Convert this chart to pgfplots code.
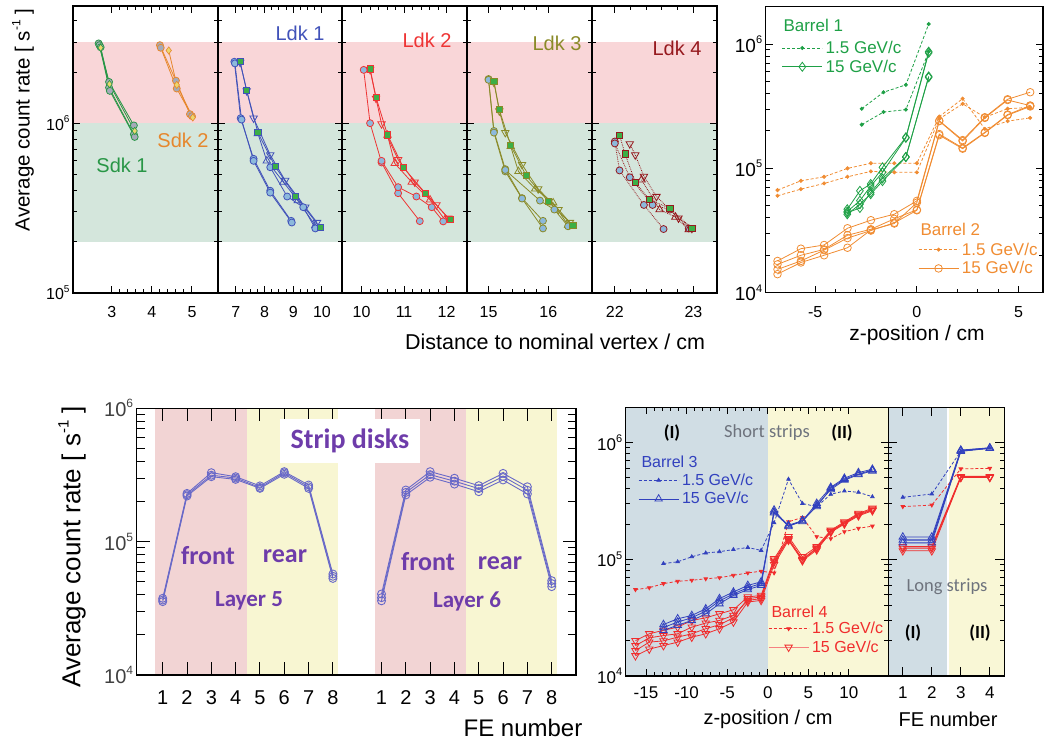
\documentclass[border=0pt]{standalone}
\usepackage{pgfplots}
\pgfplotsset{compat=1.18}
\usepackage{fontspec}
\setmainfont{Liberation Sans}
\newfontfamily\calib{Carlito}

\definecolor{bpink}{RGB}{249,214,216}
\definecolor{bgreen}{RGB}{212,230,220}
\definecolor{sdkgreen}{RGB}{40,150,70}
\definecolor{sdkorange}{RGB}{230,135,45}
\definecolor{ldkblue}{RGB}{65,82,185}
\definecolor{ldkred}{RGB}{238,52,52}
\definecolor{ldkolive}{RGB}{138,138,40}
\definecolor{ldkdark}{RGB}{150,25,30}
\definecolor{mkblue}{RGB}{140,185,220}
\definecolor{mkgreen}{RGB}{60,175,70}
\definecolor{mkgray}{RGB}{165,170,185}
\definecolor{mkyellow}{RGB}{235,215,110}
\definecolor{bgreen2}{RGB}{30,160,70}
\definecolor{borange}{RGB}{240,140,50}
\definecolor{lpink}{RGB}{242,212,212}
\definecolor{lyellow}{RGB}{248,246,210}
\definecolor{lline}{RGB}{105,105,200}
\definecolor{lpurple}{RGB}{110,60,170}
\definecolor{bgblue}{RGB}{208,221,228}
\definecolor{byellow}{RGB}{249,247,214}
\definecolor{bblue}{RGB}{50,65,190}
\definecolor{bred}{RGB}{240,45,45}
\definecolor{sgray}{RGB}{110,115,125}

\newcommand\fs[1]{\fontsize{#1}{#1}\selectfont}
\newcommand\tenp[2]{10\raisebox{0.45em}{\fs{#2}#1}}

\pgfplotsset{
  every axis/.append style={scale only axis, anchor=south west, axis on top,
    axis line style={line width=1.2pt},
    tick style={black, line width=1pt},
    major tick length=7pt, minor tick length=4pt,
    tick label style={font=\fs{16}}},
  mkc/.style={color=#1, line width=0.8pt, mark=*, mark size=3.5pt,
    mark options={solid, fill=mkblue, draw=#1, line width=0.8pt}},
  mkg/.style={color=#1, line width=0.8pt, mark=*, mark size=3.5pt,
    mark options={solid, fill=mkgray, draw=#1, line width=0.8pt}},
  mky/.style={color=#1, line width=0.8pt, mark=diamond*, mark size=3.6pt,
    mark options={solid, fill=mkyellow, draw=#1, line width=0.6pt}},
  mks/.style={color=#1, line width=0.8pt, mark=square*, mark size=3.1pt,
    mark options={solid, fill=mkgreen, draw=#1, line width=0.8pt}},
  mkd/.style={color=#1, line width=0.8pt, mark=triangle, mark size=4.3pt,
    mark options={solid, rotate=180, draw=#1, line width=0.8pt}},
  mku/.style={color=#1, line width=0.8pt, mark=triangle, mark size=4.3pt,
    mark options={solid, draw=#1, line width=0.8pt}},
}
\newcommand\legcode{\pgfplotsset{legend image code/.code={\draw[mark repeat=2, mark phase=2, ##1]
      plot coordinates {(0pt,0pt) (20pt,0pt) (40pt,0pt)};}}}

\newcommand\topbands{%
  \addplot[fill=bgreen, draw=none, forget plot] coordinates {(0,2e5) (100,2e5) (100,1e6) (0,1e6)} -- cycle;
  \addplot[fill=bpink, draw=none, forget plot] coordinates {(0,1e6) (100,1e6) (100,3e6) (0,3e6)} -- cycle;}

\begin{document}
\begin{tikzpicture}[x=1pt,y=1pt]
\path[use as bounding box] (0,0) rectangle (1044,-746);

% ---------- top left: disks ----------
\begin{axis}[ymode=log, ymin=1e5, ymax=4.9e6, height=287pt, ytick={1e5,1e6},
  minor ytick={2e5,3e5,4e5,5e5,6e5,7e5,8e5,9e5,2e6,3e6,4e6},
  at={(73pt,-293pt)}, width=145pt, xmin=2.03, xmax=5.65,
  xtick={3,4,5}, xticklabels={3,4,5}, minor x tick num=4,
  xticklabel style={yshift=-10pt},
  yticklabels={\tenp{5}{10},\tenp{6}{10}}]
\topbands
\addplot[mkg=sdkgreen] coordinates {(2.67,2.95e6) (2.93,1.75e6) (3.55,0.97e6)};
\addplot[mkg=sdkgreen] coordinates {(2.69,2.88e6) (2.93,1.62e6) (3.55,0.86e6)};
\addplot[mkg=sdkgreen] coordinates {(2.72,2.80e6) (2.95,1.55e6) (3.57,0.83e6)};
\addplot[mky=sdkgreen] coordinates {(2.72,2.78e6) (2.94,1.70e6) (3.57,0.90e6)};
\addplot[mkg=sdkorange] coordinates {(4.20,2.88e6) (4.60,1.78e6) (4.95,1.13e6)};
\addplot[mkg=sdkorange] coordinates {(4.22,2.78e6) (4.62,1.60e6) (5.00,1.10e6)};
\addplot[mky=sdkorange] coordinates {(4.42,2.68e6) (4.62,1.68e6) (5.02,1.08e6)};
\end{axis}

\begin{axis}[ymode=log, ymin=1e5, ymax=4.9e6, height=287pt, ytick={1e5,1e6}, yticklabels={},
  minor ytick={2e5,3e5,4e5,5e5,6e5,7e5,8e5,9e5,2e6,3e6,4e6},
  at={(218pt,-293pt)}, width=124pt, xmin=6.38, xmax=10.7,
  xtick={7,8,9,10}, xticklabels={7,8,9,10}, minor x tick num=3,
  xticklabel style={yshift=-10pt}]
\topbands
\addplot[mkc=ldkblue] coordinates {(6.95,2.3e6) (7.17,1.07e6) (7.62,0.617e6) (8.2,0.40e6) (8.93,0.266e6)};
\addplot[mkc=ldkblue] coordinates {(6.97,2.25e6) (7.2,1.05e6) (7.62,0.60e6) (8.2,0.39e6) (8.95,0.26e6)};
\addplot[mkd=ldkblue] coordinates {(7.15,2.28e6) (7.38,1.55e6) (7.62,1.07e6) (8.2,0.65e6) (8.72,0.46e6) (9.42,0.32e6) (9.83,0.26e6)};
\addplot[mku=ldkblue] coordinates {(7.77,0.87e6) (8.08,0.60e6) (8.66,0.45e6) (9.16,0.35e6) (9.77,0.25e6)};
\addplot[mkc=ldkblue] coordinates {(8.2,0.55e6) (8.79,0.37e6) (9.35,0.32e6) (9.77,0.24e6)};
\addplot[mks=ldkblue] coordinates {(7.15,2.3e6) (7.38,1.56e6) (7.77,0.88e6) (8.37,0.556e6) (9.09,0.37e6) (9.94,0.243e6)};
\end{axis}

\begin{axis}[ymode=log, ymin=1e5, ymax=4.9e6, height=287pt, ytick={1e5,1e6}, yticklabels={},
  minor ytick={2e5,3e5,4e5,5e5,6e5,7e5,8e5,9e5,2e6,3e6,4e6},
  at={(342pt,-293pt)}, width=125pt, xmin=9.54, xmax=12.48,
  xtick={10,11,12}, xticklabels={10,11,12}, minor x tick num=4,
  xticklabel style={yshift=-10pt}]
\topbands
\addplot[mkc=ldkred] coordinates {(10.05,2.06e6) (10.2,1.0e6) (10.47,0.587e6) (10.86,0.387e6) (11.37,0.265e6)};
\addplot[mkd=ldkred] coordinates {(10.2,2.07e6) (10.34,1.40e6) (10.47,0.99e6) (10.86,0.61e6) (11.25,0.45e6) (11.76,0.33e6) (12.04,0.276e6)};
\addplot[mku=ldkred] coordinates {(10.61,0.85e6) (10.78,0.58e6) (11.18,0.45e6) (11.61,0.354e6) (11.96,0.27e6)};
\addplot[mkc=ldkred] coordinates {(10.47,0.60e6) (10.86,0.42e6) (11.29,0.37e6) (11.65,0.32e6) (11.92,0.264e6)};
\addplot[mks=ldkred] coordinates {(10.2,2.09e6) (10.34,1.42e6) (10.61,0.854e6) (10.98,0.55e6) (11.5,0.387e6) (12.08,0.27e6)};
\end{axis}

\begin{axis}[ymode=log, ymin=1e5, ymax=4.9e6, height=287pt, ytick={1e5,1e6}, yticklabels={},
  minor ytick={2e5,3e5,4e5,5e5,6e5,7e5,8e5,9e5,2e6,3e6,4e6},
  at={(467pt,-293pt)}, width=125pt, xmin=14.64, xmax=16.73,
  xtick={15,16}, xticklabels={15,16}, minor x tick num=4,
  xticklabel style={yshift=-10pt}]
\topbands
\addplot[mkc=ldkolive] coordinates {(15.0,1.82e6) (15.09,0.90e6) (15.28,0.536e6) (15.56,0.362e6) (15.91,0.266e6)};
\addplot[mkc=ldkolive] coordinates {(15.0,1.80e6) (15.09,0.88e6) (15.28,0.52e6) (15.56,0.36e6) (15.91,0.24e6)};
\addplot[mkd=ldkolive] coordinates {(15.09,1.74e6) (15.18,1.18e6) (15.28,0.88e6) (15.56,0.57e6) (15.83,0.41e6) (16.17,0.31e6) (16.36,0.26e6)};
\addplot[mku=ldkolive] coordinates {(15.37,0.73e6) (15.5,0.52e6) (15.78,0.41e6) (16.08,0.34e6) (16.33,0.25e6)};
\addplot[mkc=ldkolive] coordinates {(15.28,0.53e6) (15.86,0.35e6) (16.1,0.31e6) (16.33,0.247e6)};
\addplot[mks=ldkolive] coordinates {(15.09,1.76e6) (15.18,1.2e6) (15.37,0.74e6) (15.63,0.49e6) (16.0,0.346e6) (16.41,0.25e6)};
\end{axis}

\begin{axis}[ymode=log, ymin=1e5, ymax=4.9e6, height=287pt, ytick={1e5,1e6}, yticklabels={},
  minor ytick={2e5,3e5,4e5,5e5,6e5,7e5,8e5,9e5,2e6,3e6,4e6},
  at={(592pt,-293pt)}, width=125pt, xmin=21.71, xmax=23.3,
  xtick={22,23}, xticklabels={22,23}, minor x tick num=4,
  xticklabel style={yshift=-10pt}]
\topbands
\addplot[mkc=ldkdark, densely dotted] coordinates {(22.0,0.78e6) (22.06,0.527e6) (22.37,0.33e6) (22.62,0.238e6)};
\addplot[mkc=ldkdark, densely dotted] coordinates {(22.0,0.76e6) (22.19,0.48e6) (22.48,0.33e6) (22.7,0.31e6) (22.94,0.24e6)};
\addplot[mkd=ldkdark, densely dotted] coordinates {(22.19,0.756e6) (22.26,0.65e6) (22.37,0.486e6) (22.53,0.37e6) (22.81,0.276e6) (22.98,0.24e6)};
\addplot[mku=ldkdark, densely dotted] coordinates {(22.34,0.464e6) (22.57,0.31e6) (22.77,0.28e6) (22.94,0.236e6)};
\addplot[mks=ldkdark, densely dotted] coordinates {(22.06,0.85e6) (22.13,0.66e6) (22.26,0.45e6) (22.44,0.354e6) (22.7,0.316e6) (22.98,0.24e6)};
\end{axis}

\node[sdkgreen, font=\fs{20}] at (122,-165) {Sdk 1};
\node[sdkorange, font=\fs{20}] at (183,-140) {Sdk 2};
\node[ldkblue, font=\fs{20}] at (300,-33) {Ldk 1};
\node[ldkred, font=\fs{20}] at (427,-40) {Ldk 2};
\node[ldkolive, font=\fs{20}] at (557,-43) {Ldk 3};
\node[ldkdark, font=\fs{20}] at (677,-48) {Ldk 4};
\node[rotate=90, font=\fs{20.5}] at (23,-120) {Average count rate [ s\raisebox{0.45em}{\fs{12}-1} ]};
\node[font=\fs{21.5}] at (555,-342) {Distance to nominal vertex / cm};

% ---------- top right: barrels 1, 2 ----------
\begin{axis}[ymode=log, at={(765.7pt,-292.7pt)}, width=277.3pt, height=286pt,
  xmin=-7.43, xmax=6.2, ymin=1e4, ymax=2e6,
  xtick={-5,0,5}, xticklabels={-5,0,5}, minor x tick num=4, xtick pos=left,
  xticklabel style={yshift=-10pt},
  ytick={1e4,1e5,1e6}, yticklabels={\tenp{4}{11},\tenp{5}{11},\tenp{6}{11}},
  yticklabel style={font=\fs{19}},
  minor ytick={2e4,3e4,4e4,5e4,6e4,7e4,8e4,9e4,2e5,3e5,4e5,5e5,6e5,7e5,8e5,9e5,2e6}]
\addplot[borange, densely dashed, line width=0.8pt, mark=*, mark size=1.6pt, mark options={solid}] coordinates {(-6.85,6.69e4) (-5.7,7.95e4) (-4.56,8.56e4) (-3.41,1.0e5) (-2.26,1.1e5) (-1.11,1.1e5) (0,1.1e5) (1.1,2.61e5) (2.25,3.64e5) (3.34,2.08e5) (4.46,2.4e5) (5.57,2.55e5)};
\addplot[borange, densely dashed, line width=0.8pt, mark=*, mark size=1.6pt, mark options={solid}] coordinates {(-6.85,6.02e4) (-5.7,6.81e4) (-4.56,7.57e4) (-3.41,8.56e4) (-2.26,9.46e4) (-1.11,9.3e4) (0,9.3e4) (1.1,2.5e5) (2.25,3.31e5) (3.34,2.58e5) (4.46,3.02e5) (5.57,3.1e5)};
\addplot[borange, line width=0.8pt, mark=o, mark size=3.8pt, mark options={solid, fill=white}] coordinates {(-6.85,1.8e4) (-5.7,2.26e4) (-4.56,2.42e4) (-3.41,3.3e4) (-2.26,3.83e4) (-1.11,4.28e4) (0,5.48e4) (1.1,2.42e5) (2.25,1.69e5) (3.34,2.58e5) (4.46,3.6e5) (5.57,4.1e5)};
\addplot[borange, line width=0.8pt, mark=o, mark size=3.8pt, mark options={solid, fill=white}] coordinates {(-6.85,1.69e4) (-5.7,2.0e4) (-4.56,2.23e4) (-3.41,2.9e4) (-2.26,3.24e4) (-1.11,3.93e4) (0,4.65e4) (1.1,1.89e5) (2.25,1.46e5) (3.34,1.95e5) (4.46,2.71e5) (5.57,3.2e5)};
\addplot[borange, line width=0.8pt, mark=o, mark size=3.8pt, mark options={solid, fill=white}] coordinates {(-6.85,1.54e4) (-5.7,1.8e4) (-4.56,2.2e4) (-3.41,2.75e4) (-2.26,3.16e4) (-1.11,3.65e4) (0,4.6e4) (1.1,1.85e5) (2.25,1.44e5) (3.34,1.93e5) (4.46,2.68e5) (5.57,3.15e5)};
\addplot[borange, line width=0.8pt, mark=o, mark size=3.8pt, mark options={solid, fill=white}] coordinates {(-6.85,1.41e4) (-5.7,1.75e4) (-4.56,2.0e4) (-3.41,2.3e4) (-2.26,3.2e4) (-1.11,3.6e4) (0,5.3e4) (1.1,2.4e5) (2.25,1.66e5) (3.34,2.55e5) (4.46,3.55e5) (5.57,3.2e5)};
\addplot[bgreen2, densely dashed, line width=0.8pt, mark=*, mark size=1.6pt, mark options={solid}] coordinates {(-2.71,3.02e5) (-1.64,4.1e5) (-0.54,4.7e5) (0.58,1.45e6)};
\addplot[bgreen2, densely dashed, line width=0.8pt, mark=*, mark size=1.6pt, mark options={solid}] coordinates {(-2.71,2.25e5) (-1.64,2.84e5) (-0.54,2.97e5) (0.58,8.7e5)};
\addplot[bgreen2, line width=0.8pt, mark=diamond, mark size=4.5pt, mark options={solid, fill=white}] coordinates {(-3.42,4.69e4) (-2.8,6.6e4) (-2.27,7.5e4) (-1.69,1.02e5) (-0.54,1.78e5) (0.58,8.7e5)};
\addplot[bgreen2, line width=0.8pt, mark=diamond, mark size=4.5pt, mark options={solid, fill=white}] coordinates {(-3.42,4.5e4) (-2.8,5.5e4) (-2.27,7.2e4) (-1.69,9.3e4) (-0.54,1.76e5) (0.58,8.5e5)};
\addplot[bgreen2, line width=0.8pt, mark=diamond, mark size=4.5pt, mark options={solid, fill=white}] coordinates {(-3.42,4.27e4) (-2.8,5.15e4) (-2.27,6.2e4) (-1.69,7.9e4) (-0.54,1.23e5) (0.58,5.5e5)};
\addplot[bgreen2, line width=0.8pt, mark=diamond, mark size=4.5pt, mark options={solid, fill=white}] coordinates {(-3.42,4.4e4) (-2.8,4.8e4) (-2.27,6.4e4) (-1.69,8.3e4) (-0.54,1.24e5) (0.58,5.4e5)};
\end{axis}

\begin{axis}[hide axis, xmin=0, xmax=1, ymin=0, ymax=1, legend cell align=left,
  at={(765.7pt,-292.7pt)}, width=277.3pt, height=286pt,
  legend style={at={(0.0577,0.884)}, anchor=north west, draw=none, fill=none,
    inner sep=0pt, row sep=3pt, text=bgreen2, font=\fs{17},
    nodes={inner ysep=1pt, inner xsep=3pt}}]
\legcode
\addlegendimage{bgreen2, densely dashed, line width=0.8pt, mark=*, mark size=1.6pt, mark options={solid}}
\addlegendentry{1.5 GeV/c}
\addlegendimage{bgreen2, line width=0.8pt, mark=diamond, mark size=4.5pt, mark options={solid, fill=white}}
\addlegendentry{15 GeV/c}
\end{axis}
\begin{axis}[hide axis, xmin=0, xmax=1, ymin=0, ymax=1, legend cell align=left,
  at={(765.7pt,-292.7pt)}, width=277.3pt, height=286pt,
  legend style={at={(0.549,0.179)}, anchor=north west, draw=none, fill=none,
    inner sep=0pt, row sep=3pt, text=borange, font=\fs{17},
    nodes={inner ysep=1pt, inner xsep=3pt}}]
\legcode
\addlegendimage{borange, densely dashed, line width=0.8pt, mark=*, mark size=1.6pt, mark options={solid}}
\addlegendentry{1.5 GeV/c}
\addlegendimage{borange, line width=0.8pt, mark=o, mark size=3.8pt, mark options={solid, fill=white}}
\addlegendentry{15 GeV/c}
\end{axis}
\node[bgreen2, font=\fs{17}, anchor=west] at (780,-25) {Barrel 1};
\node[borange, font=\fs{17}, anchor=west] at (917,-229) {Barrel 2};
\node[font=\fs{21}] at (917,-335) {z-position / cm};

% ---------- bottom left: strip disks ----------
\begin{axis}[ymode=log, at={(136.7pt,-675pt)}, width=439.3pt, height=266.7pt,
  xmin=-0.07, xmax=18, ymin=1e4, ymax=1e6,
  major tick length=13pt, minor tick length=8pt,
  xtick={1,2,3,4,5,6,7,8,10,11,12,13,14,15,16,17},
  xticklabels={1,2,3,4,5,6,7,8,1,2,3,4,5,6,7,8},
  xticklabel style={font=\fs{20}, yshift=-12pt},
  ytick={1e4,1e5,1e6}, yticklabels={\tenp{4}{12},\tenp{5}{12},\tenp{6}{12}},
  yticklabel style={font=\fs{20}, text=black!75},
  minor ytick={2e4,3e4,4e4,5e4,6e4,7e4,8e4,9e4,2e5,3e5,4e5,5e5,6e5,7e5,8e5,9e5}]
\addplot[fill=lpink, draw=none, forget plot] coordinates {(0.68,1e4) (4.47,1e4) (4.47,1e6) (0.68,1e6)} -- cycle;
\addplot[fill=lyellow, draw=none, forget plot] coordinates {(4.47,1e4) (8.23,1e4) (8.23,1e6) (4.47,1e6)} -- cycle;
\addplot[fill=lpink, draw=none, forget plot] coordinates {(9.73,1e4) (13.47,1e4) (13.47,1e6) (9.73,1e6)} -- cycle;
\addplot[fill=lyellow, draw=none, forget plot] coordinates {(13.47,1e4) (17.2,1e4) (17.2,1e6) (13.47,1e6)} -- cycle;
\addplot[lline, line width=0.9pt, mark=o, mark size=4pt] coordinates {(1,3.76e4) (2,2.3e5) (3,3.29e5) (4,3.07e5) (5,2.62e5) (6,3.35e5) (7,2.66e5) (8,5.72e4)};
\addplot[lline, line width=0.9pt, mark=o, mark size=4pt] coordinates {(1,3.55e4) (2,2.2e5) (3,3.07e5) (4,2.93e5) (5,2.51e5) (6,3.2e5) (7,2.51e5) (8,5.3e4)};
\addplot[lline, line width=0.9pt, mark=o, mark size=4pt] coordinates {(1,3.65e4) (2,2.25e5) (3,3.15e5) (4,3.0e5) (5,2.55e5) (6,3.28e5) (7,2.58e5) (8,5.5e4)};
\addplot[lline, line width=0.9pt, mark=o, mark size=4pt] coordinates {(10,4.05e4) (11,2.44e5) (12,3.35e5) (13,2.99e5) (14,2.63e5) (15,3.25e5) (16,2.58e5) (17,5.1e4)};
\addplot[lline, line width=0.9pt, mark=o, mark size=4pt] coordinates {(10,3.6e4) (11,2.24e5) (12,3.04e5) (13,2.7e5) (14,2.37e5) (15,2.9e5) (16,2.28e5) (17,4.6e4)};
\addplot[lline, line width=0.9pt, mark=o, mark size=4pt] coordinates {(10,3.8e4) (11,2.34e5) (12,3.18e5) (13,2.84e5) (14,2.5e5) (15,3.08e5) (16,2.43e5) (17,4.85e4)};
\end{axis}
\node[fill=white, text=lpurple, font=\calib\bfseries\fs{28}, minimum width=140pt, minimum height=44pt] at (350,-441) {Strip disks};
\node[lpurple, font=\calib\bfseries\fs{26}] at (208,-556) {front};
\node[lpurple, font=\calib\bfseries\fs{26}] at (285,-556) {rear};
\node[lpurple, font=\calib\bfseries\fs{23}] at (249,-601) {Layer 5};
\node[lpurple, font=\calib\bfseries\fs{26}] at (428,-562) {front};
\node[lpurple, font=\calib\bfseries\fs{26}] at (500,-563) {rear};
\node[lpurple, font=\calib\bfseries\fs{23}] at (467,-601) {Layer 6};
\node[rotate=90, font=\fs{26}] at (72,-547) {Average count rate [ s\raisebox{0.45em}{\fs{15}-1} ]};
\node[font=\fs{24}] at (523,-728) {FE number};

% ---------- bottom right: barrels 3, 4 ----------
\begin{axis}[ymode=log, at={(625.7pt,-676pt)}, width=262.6pt, height=268.7pt,
  xmin=-17.5, xmax=14.85, ymin=1e4, ymax=2e6,
  xtick={-15,-10,-5,0,5,10}, xticklabels={-15,-10,-5,0,5,10}, minor x tick num=4,
  xticklabel style={font=\fs{17}, yshift=-7pt},
  ytick={1e4,1e5,1e6}, yticklabels={\tenp{4}{11},\tenp{5}{11},\tenp{6}{11}},
  yticklabel style={font=\fs{17}},
  minor ytick={2e4,3e4,4e4,5e4,6e4,7e4,8e4,9e4,2e5,3e5,4e5,5e5,6e5,7e5,8e5,9e5,2e6}]
\addplot[fill=bgblue, draw=none, forget plot] coordinates {(-20,1e4) (0,1e4) (0,2e6) (-20,2e6)} -- cycle;
\addplot[fill=byellow, draw=none, forget plot] coordinates {(0,1e4) (20,1e4) (20,2e6) (0,2e6)} -- cycle;
\addplot[bblue, densely dashed, line width=0.8pt, mark=triangle*, mark size=2pt, mark options={solid}] coordinates {(-12.85,0.918e5) (-11.1,0.95e5) (-9.36,1.05e5) (-7.64,1.13e5) (-5.95,1.16e5) (-4.23,1.21e5) (-2.46,1.26e5) (-0.82,1.19e5) (0.78,2.05e5) (2.55,4.84e5) (4.27,3.0e5) (6.03,2.82e5) (7.76,3.6e5) (9.44,3.84e5) (11.17,3.74e5) (12.89,3.43e5)};
\addplot[bred, densely dashed, line width=0.8pt, mark=triangle*, mark size=2pt, mark options={solid, rotate=180}] coordinates {(-16.3,0.549e5) (-14.6,0.57e5) (-12.85,0.618e5) (-11.1,0.647e5) (-9.36,0.66e5) (-7.64,0.68e5) (-5.95,0.695e5) (-4.23,0.728e5) (-2.46,0.763e5) (-0.82,0.79e5) (0.78,0.763e5) (2.55,2.09e5) (4.27,2.28e5) (6.03,1.56e5) (7.76,1.5e5) (9.44,1.72e5) (11.17,1.84e5) (12.89,1.92e5)};
\addplot[mkd=bred, mark size=4.3pt] coordinates {(-16.3,2.01e4) (-14.6,2.3e4) (-12.85,2.46e4) (-11.1,2.62e4) (-9.36,2.99e4) (-7.64,3.15e4) (-5.95,3.41e4) (-4.23,3.69e4) (-2.46,4.75e4) (-0.82,4.9e4) (0.78,1.01e5) (2.55,1.56e5) (4.27,1.05e5) (6.03,1.28e5) (7.76,1.77e5) (9.44,2.09e5) (11.17,2.47e5) (12.89,2.73e5)};
\addplot[mkd=bred, mark size=4.3pt] coordinates {(-16.3,1.82e4) (-14.6,2.12e4) (-12.85,2.22e4) (-11.1,2.3e4) (-9.36,2.62e4) (-7.64,2.84e4) (-5.95,2.99e4) (-4.23,3.3e4) (-2.46,4.44e4) (-0.82,4.6e4) (0.78,0.98e5) (2.55,1.5e5) (4.27,0.99e5) (6.03,1.23e5) (7.76,1.72e5) (9.44,2.03e5) (11.17,2.39e5) (12.89,2.64e5)};
\addplot[mkd=bred, mark size=4.3pt] coordinates {(-16.3,1.49e4) (-14.6,1.7e4) (-12.85,1.82e4) (-11.1,1.95e4) (-9.36,2.15e4) (-7.64,2.3e4) (-5.95,2.54e4) (-4.23,2.9e4) (-2.46,4.3e4) (-0.82,4.44e4) (0.78,0.9e5) (2.55,1.45e5) (4.27,0.97e5) (6.03,1.2e5) (7.76,1.7e5) (9.44,2.0e5) (11.17,2.35e5) (12.89,2.6e5)};
\addplot[mkd=bred, mark size=4.3pt] coordinates {(-16.3,1.65e4) (-14.6,1.95e4) (-12.85,2.0e4) (-11.1,2.15e4) (-9.36,2.3e4) (-7.64,2.54e4) (-5.95,2.75e4) (-4.23,3.15e4) (-2.46,4.6e4) (-0.82,4.75e4) (0.78,0.95e5) (2.55,1.48e5) (4.27,1.0e5) (6.03,1.25e5) (7.76,1.74e5) (9.44,2.05e5) (11.17,2.43e5) (12.89,2.68e5)};
\addplot[mku=bblue, mark size=4.3pt] coordinates {(-12.85,2.76e4) (-11.1,3.09e4) (-9.36,3.3e4) (-7.64,3.76e4) (-5.95,4.6e4) (-4.23,5.24e4) (-2.46,5.97e4) (-0.82,6.4e4) (0.78,2.55e5) (2.55,1.96e5) (4.27,2.13e5) (6.03,3.01e5) (7.76,4.13e5) (9.44,4.94e5) (11.17,5.52e5) (12.89,5.9e5)};
\addplot[mku=bblue, mark size=4.3pt] coordinates {(-12.85,2.46e4) (-11.1,2.72e4) (-9.36,2.99e4) (-7.64,3.4e4) (-5.95,4.16e4) (-4.23,4.9e4) (-2.46,5.49e4) (-0.82,5.97e4) (0.78,2.64e5) (2.55,1.9e5) (4.27,2.16e5) (6.03,2.82e5) (7.76,4.05e5) (9.44,4.84e5) (11.17,5.37e5) (12.89,5.8e5)};
\addplot[mku=bblue, mark size=4.3pt] coordinates {(-12.85,2.6e4) (-11.1,2.9e4) (-9.36,3.15e4) (-7.64,3.6e4) (-5.95,4.4e4) (-4.23,5.05e4) (-2.46,5.7e4) (-0.82,6.2e4) (0.78,2.5e5) (2.55,1.93e5) (4.27,2.1e5) (6.03,2.9e5) (7.76,3.95e5) (9.44,4.75e5) (11.17,5.3e5) (12.89,5.7e5)};
\end{axis}

\begin{axis}[ymode=log, at={(888.3pt,-676pt)}, width=116pt, height=268.7pt,
  xmin=0.5, xmax=4.5, ymin=1e4, ymax=2e6,
  major tick length=9pt, xtick={1,2,3,4}, xticklabels={1,2,3,4},
  xticklabel style={font=\fs{17}, yshift=-7pt},
  ytick={1e4,1e5,1e6}, yticklabels={},
  minor ytick={2e4,3e4,4e4,5e4,6e4,7e4,8e4,9e4,2e5,3e5,4e5,5e5,6e5,7e5,8e5,9e5,2e6}]
\addplot[fill=bgblue, draw=none, forget plot] coordinates {(0,1e4) (2.51,1e4) (2.51,2e6) (0,2e6)} -- cycle;
\addplot[fill=byellow, draw=none, forget plot] coordinates {(2.59,1e4) (5,1e4) (5,2e6) (2.59,2e6)} -- cycle;
\addplot[bblue, densely dashed, line width=0.8pt, mark=triangle*, mark size=2pt, mark options={solid}] coordinates {(1,3.39e5) (2,3.62e5) (3,8.4e5) (4,8.95e5)};
\addplot[bred, densely dashed, line width=0.8pt, mark=triangle*, mark size=2pt, mark options={solid, rotate=180}] coordinates {(1,2.82e5) (2,2.91e5) (3,5.94e5) (4,6.0e5)};
\addplot[mkd=bred, mark size=4.3pt, line width=1.2pt] coordinates {(1,1.28e5) (2,1.28e5) (3,5.1e5) (4,5.1e5)};
\addplot[mkd=bred, mark size=4.3pt] coordinates {(1,1.24e5) (2,1.24e5) (3,5.05e5) (4,5.05e5)};
\addplot[mkd=bred, mark size=4.3pt] coordinates {(1,1.18e5) (2,1.18e5) (3,5.0e5) (4,5.0e5)};
\addplot[mku=bblue, mark size=4.3pt, line width=1.2pt] coordinates {(1,1.46e5) (2,1.46e5) (3,8.53e5) (4,8.94e5)};
\addplot[mku=bblue, mark size=4.3pt] coordinates {(1,1.55e5) (2,1.55e5) (3,8.6e5) (4,9.0e5)};
\addplot[mku=bblue, mark size=4.3pt] coordinates {(1,1.38e5) (2,1.38e5) (3,8.4e5) (4,8.9e5)};
\end{axis}

\begin{axis}[hide axis, xmin=0, xmax=1, ymin=0, ymax=1, legend cell align=left,
  at={(625.7pt,-676pt)}, width=262.6pt, height=268.7pt,
  legend style={at={(0.047,0.757)}, anchor=north west, draw=none, fill=none,
    inner sep=0pt, row sep=3.5pt, text=bblue, font=\fs{16},
    nodes={inner ysep=1pt, inner xsep=3pt}}]
\legcode
\addlegendimage{bblue, densely dashed, line width=0.8pt, mark=triangle*, mark size=2pt, mark options={solid}}
\addlegendentry{1.5 GeV/c}
\addlegendimage{bblue, line width=0.8pt, mark=triangle, mark size=4.3pt, mark options={solid}}
\addlegendentry{15 GeV/c}
\end{axis}
\begin{axis}[hide axis, xmin=0, xmax=1, ymin=0, ymax=1, legend cell align=left,
  at={(625.7pt,-676pt)}, width=262.6pt, height=268.7pt,
  legend style={at={(0.542,0.205)}, anchor=north west, draw=none, fill=none,
    inner sep=0pt, row sep=3.5pt, text=bred, font=\fs{16},
    nodes={inner ysep=1pt, inner xsep=3pt}}]
\legcode
\addlegendimage{bred, densely dashed, line width=0.8pt, mark=triangle*, mark size=2pt, mark options={solid, rotate=180}}
\addlegendentry{1.5 GeV/c}
\addlegendimage{bred!60, line width=0.8pt, mark=triangle, mark size=4.3pt, mark options={solid, rotate=180, draw=bred}}
\addlegendentry{15 GeV/c}
\end{axis}
\node[bblue, font=\fs{16}, anchor=west] at (638,-462) {Barrel 3};
\node[bred, font=\fs{16}, anchor=west] at (768,-612) {Barrel 4};
\node[font=\calib\bfseries\fs{18.5}] at (672,-433) {(I)};
\node[sgray, font=\calib\fs{18.5}] at (767,-433) {Short strips};
\node[font=\calib\bfseries\fs{18.5}] at (842,-433) {(II)};
\node[sgray, font=\calib\fs{18.5}] at (947,-587) {Long strips};
\node[font=\calib\bfseries\fs{18.5}] at (913,-633) {(I)};
\node[font=\calib\bfseries\fs{18.5}] at (980,-633) {(II)};
\node[font=\fs{20}] at (768,-719) {z-position / cm};
\node[font=\fs{20}] at (948,-719) {FE number};
\end{tikzpicture}
\end{document}
